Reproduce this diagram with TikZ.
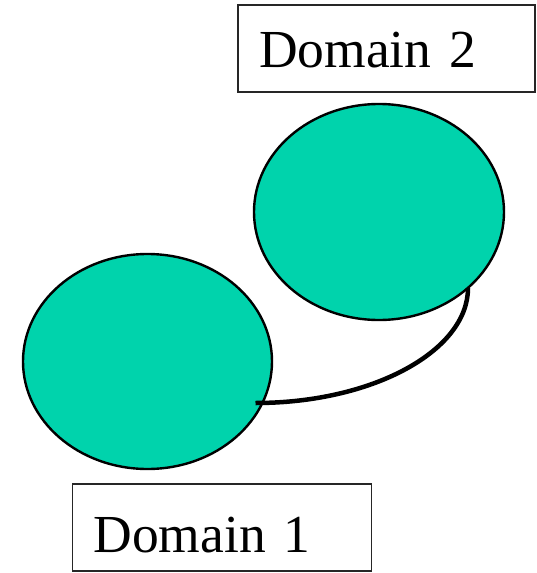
\documentclass[tikz,border=0pt]{standalone}
\usepackage{fontspec}
\setmainfont{Liberation Serif}
\usetikzlibrary{shapes.geometric}
\definecolor{domfill}{RGB}{0,211,172}
\tikzset{
  domblob/.style={ellipse, draw=black, line width=2.4pt, fill=domfill, inner sep=0pt,
    minimum width=250pt, minimum height=216pt},
  labelbox/.style={rectangle, draw=black!85, line width=1.5pt, inner ysep=0pt, inner xsep=21pt,
    minimum height=87pt, align=left, font=\fontsize{53.5}{60}\selectfont},
  link/.style={draw=black, line width=4.5pt}
}
\begin{document}
\begin{tikzpicture}[x=1pt,y=-1pt]
\useasboundingbox (0,0) rectangle (536,573);
\node[labelbox, text width=255pt, text height=37pt, text depth=0pt] (lab2) at (386.5,48.5) {Domain 2};
\node[labelbox, text width=257pt, text height=61pt, text depth=12pt] (lab1) at (222,527.5) {Domain 1};
\node[domblob] (dom2) at (379,212) {};
\node[domblob, minimum width=249pt, minimum height=215pt] (dom1) at (147.5,361.5) {};
\coordinate (c1) at ([shift={(108pt,-41.5pt)}]dom1.center);
\coordinate (c2) at ([shift={(89pt,-76pt)}]dom2.center);
\draw[link] (c1) .. controls ([xshift=117pt]c1) and ([yshift=-63pt]c2) .. (c2);
\end{tikzpicture}
\end{document}
